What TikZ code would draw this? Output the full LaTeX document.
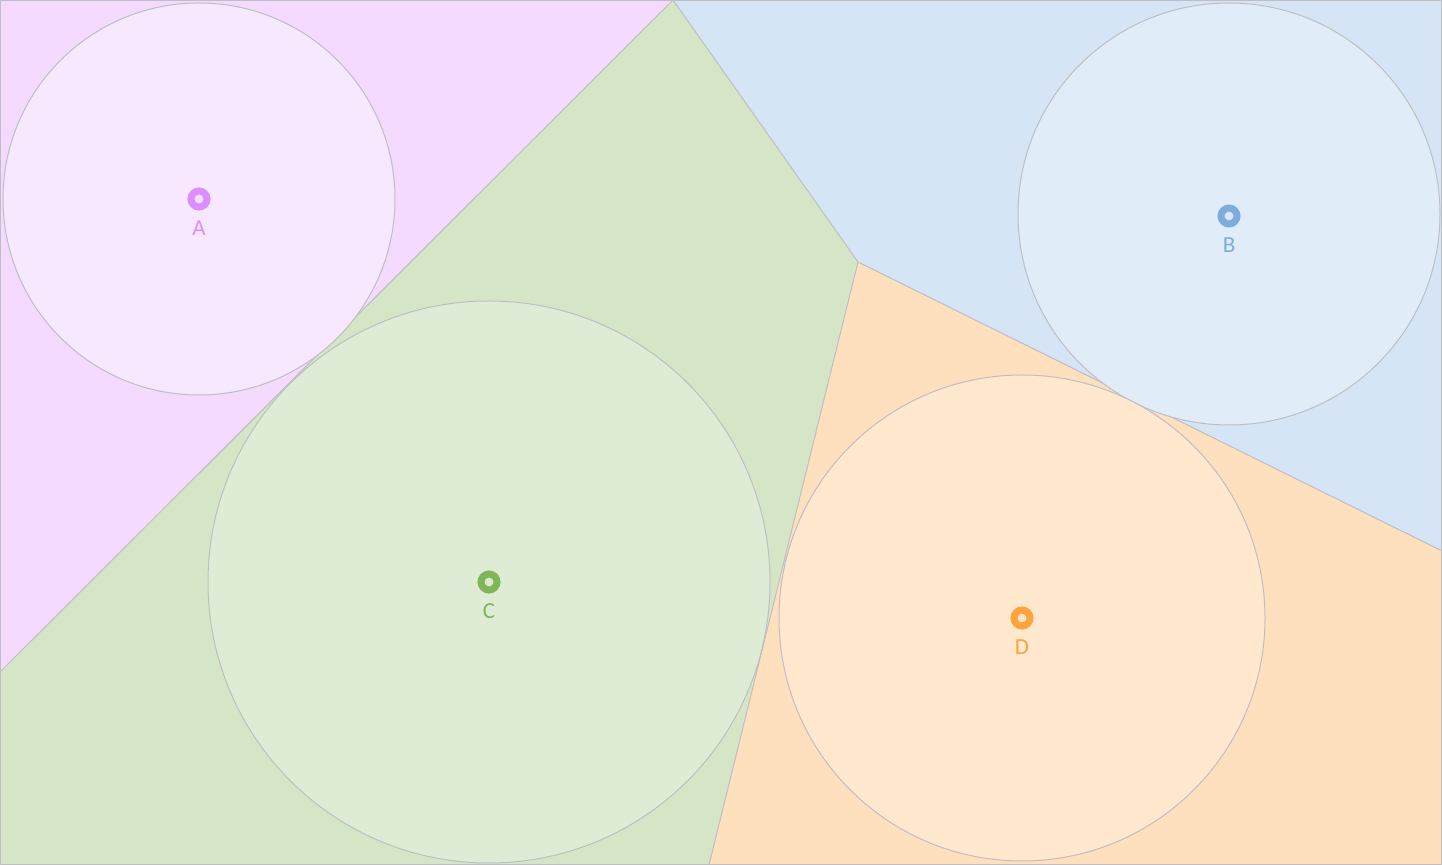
\documentclass[tikz,border=0pt]{standalone}
\usepackage{fontspec}
\setsansfont{Carlito}
\usetikzlibrary{positioning}
\definecolor{regA}{RGB}{245,218,255}
\definecolor{regB}{RGB}{213,229,245}
\definecolor{regC}{RGB}{213,230,199}
\definecolor{regD}{RGB}{255,224,190}
\definecolor{discA}{RGB}{247,232,255}
\definecolor{discB}{RGB}{224,236,248}
\definecolor{discC}{RGB}{222,236,214}
\definecolor{discD}{RGB}{255,232,206}
\definecolor{siteA}{RGB}{218,143,255}
\definecolor{siteB}{RGB}{126,172,222}
\definecolor{siteC}{RGB}{128,181,90}
\definecolor{siteD}{RGB}{255,163,60}
\definecolor{edgegray}{RGB}{190,190,195}
\begin{document}
\begin{tikzpicture}[x=0.5pt, y=-0.5pt,
    cell/.style={draw=edgegray, line width=0.5pt, line join=round},
    disc/.style={draw=edgegray, line width=0.5pt},
    site/.style={circle, draw=#1, line width=3.5pt, minimum size=8pt, inner sep=0pt, fill=white!70!#1},
    sitelabel/.style={text=#1, font=\sffamily\fontsize{11.5}{13}\selectfont, inner sep=0pt}]
        \useasboundingbox (0,0) rectangle (1442,865);

        % Cells
        \fill[regA] (0,0) -- (673,0) -- (0,672) -- cycle;
        \fill[regC] (673,0) -- (858,262) -- (709,865) -- (0,865) -- (0,672) -- cycle;
        \fill[regB] (673,0) -- (1442,0) -- (1442,551) -- (858,262) -- cycle;
        \fill[regD] (858,262) -- (1442,551) -- (1442,865) -- (709,865) -- cycle;

        % Cell borders
        \draw[cell] (0,672) -- (673,0) -- (858,262) -- (709,865);
        \draw[cell] (858,262) -- (1442,551);
        \draw[cell] (0.5,0.5) rectangle (1441.5,864.5);

        % Discs
        \draw[disc, fill=discA] (199,199) circle[radius=196];
        \draw[disc, fill=discB] (1229,214) circle[radius=211];
        \draw[disc, fill=discC] (489,582) circle[radius=281];
        \draw[disc, fill=discD] (1022,618) circle[radius=243];

        % Sites
        \node[site=siteA] (a) at (199,199) {};
        \node[site=siteB] (b) at (1229,216) {};
        \node[site=siteC] (c) at (489,582) {};
        \node[site=siteD] (d) at (1022,618) {};

        % Labels
        \node[sitelabel=siteA, below=5pt of a] (la) {A};
        \node[sitelabel=siteB, below=5pt of b] (lb) {B};
        \node[sitelabel=siteC, below=5pt of c] (lc) {C};
        \node[sitelabel=siteD, below=5pt of d] (ld) {D};
\end{tikzpicture}
\end{document}
